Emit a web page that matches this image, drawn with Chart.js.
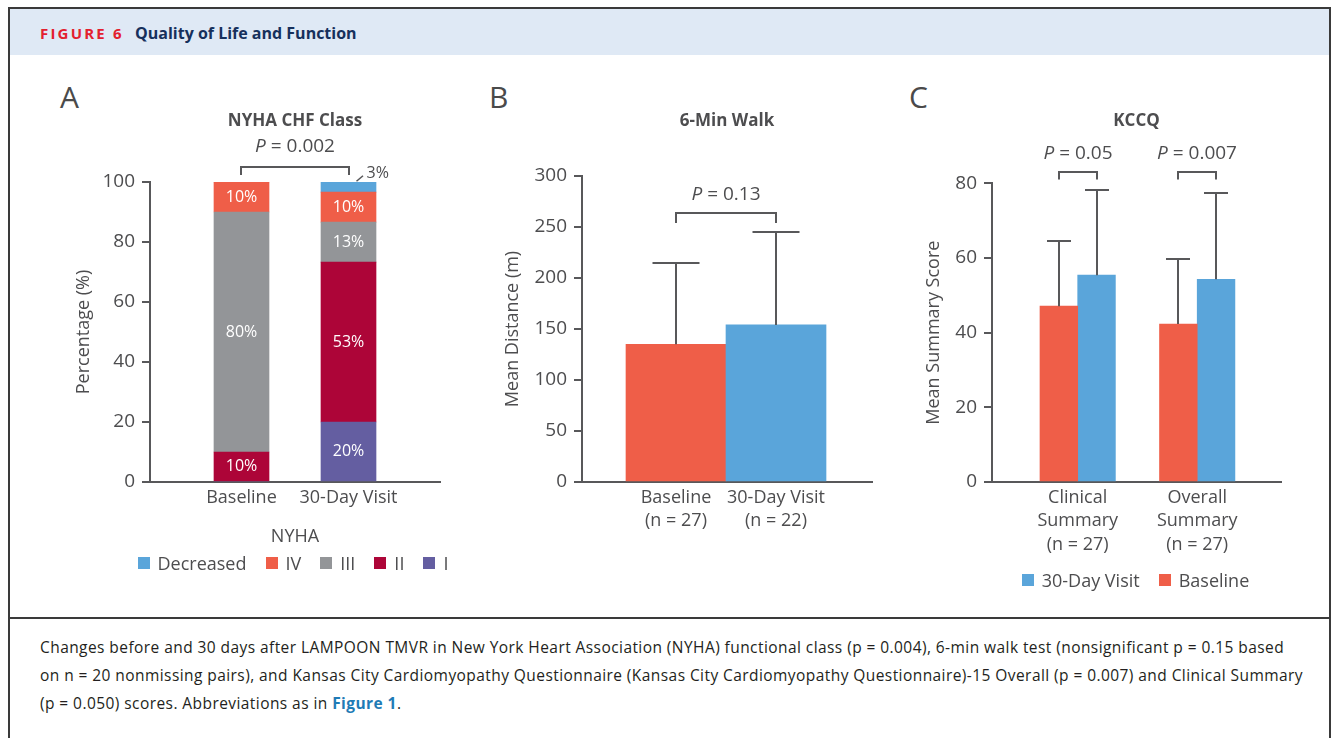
<!DOCTYPE html>
<html>
<head>
<meta charset="utf-8">
<script src="https://cdn.jsdelivr.net/npm/chart.js@4.4.1/dist/chart.umd.min.js"></script>
<style>
html,body{margin:0;padding:0;background:#fff;}
body{width:1336px;height:738px;position:relative;overflow:hidden;font-family:'Open Sans','Noto Sans',sans-serif;color:#4d4d4f;}
.frame{position:absolute;left:8px;top:7px;width:1319px;height:800px;border:2px solid #3a3a3a;box-sizing:content-box;}
.band{position:absolute;left:10px;top:9px;width:1319px;height:46px;background:#dfe9f5;}
.fig{position:absolute;left:40px;top:10px;height:46px;line-height:46px;font-size:15px;font-weight:bold;letter-spacing:2.2px;color:#e3202f;}
.ftitle{position:absolute;left:135px;top:10px;height:46px;line-height:46px;font-size:16px;font-weight:bold;color:#16305c;}
.sep{position:absolute;left:10px;top:617px;width:1319px;height:2px;background:#3a3a3a;}
.letter{position:absolute;top:82px;font-size:30px;line-height:30px;color:#4a4a4a;}
.wrap{position:absolute;}
.legend{position:absolute;display:flex;align-items:center;white-space:nowrap;font-size:18px;color:#4d4d4f;}
.legend .it{display:flex;align-items:center;margin-right:19px;}
.legend .it:last-child{margin-right:0;}
.legend .sw{width:12px;height:12px;margin-right:8px;}
.ltitle{position:absolute;font-size:18px;color:#4d4d4f;white-space:nowrap;}
.caption{position:absolute;left:40px;top:633px;font-size:15.5px;letter-spacing:0.43px;line-height:28px;color:#231f20;white-space:nowrap;}
.caption b{color:#1f7bb6;}
</style>
</head>
<body>
<div class="frame"></div>
<div class="band"></div>
<div class="fig">FIGURE 6</div>
<div class="ftitle">Quality of Life and Function</div>
<div class="sep"></div>

<div class="letter" style="left:60px">A</div>
<div class="letter" style="left:489px">B</div>
<div class="letter" style="left:909px">C</div>

<div class="wrap" style="left:40px;top:80px;width:430px;height:510px"><canvas id="cA" width="430" height="510"></canvas></div>
<div class="wrap" style="left:470px;top:80px;width:420px;height:510px"><canvas id="cB" width="420" height="510"></canvas></div>
<div class="wrap" style="left:890px;top:80px;width:430px;height:510px"><canvas id="cC" width="430" height="510"></canvas></div>

<div class="ltitle" id="legATitle">NYHA</div>
<div class="legend" id="legA"></div>
<div class="legend" id="legC"></div>

<div class="caption">Changes before and 30 days after LAMPOON TMVR in New York Heart Association (NYHA) functional class (p = 0.004), 6-min walk test (nonsignificant p = 0.15 based<br>on n = 20 nonmissing pairs), and Kansas City Cardiomyopathy Questionnaire (Kansas City Cardiomyopathy Questionnaire)-15 Overall (p = 0.007) and Clinical Summary<br>(p = 0.050) scores. Abbreviations as in <b>Figure 1</b>.</div>

<script>
// ---------- DATA ----------
// Panel A: NYHA class distribution (%)
const nyhaCategories = ['Baseline', '30-Day Visit'];
const nyhaClassI = [0, 20];
const nyhaClassII = [10, 53.3];
const nyhaClassIII = [80, 13.3];
const nyhaClassIV = [10, 10];
const nyhaDecreased = [0, 3.3];
const nyhaTicks = [0, 20, 40, 60, 80, 100];
const nyhaP = '0.002';

// Panel B: 6-min walk (m)
const walkCategories = [['Baseline', '(n = 27)'], ['30-Day Visit', '(n = 22)']];
const walkMean = [135, 154];
const walkSD = [80, 91];
const walkTicks = [0, 50, 100, 150, 200, 250, 300];
const walkP = '0.13';

// Panel C: KCCQ summary scores
const kccqCategories = [['Clinical', 'Summary', '(n = 27)'], ['Overall', 'Summary', '(n = 27)']];
const kccqBaseline = [47.1, 42.3];
const kccqBaselineSD = [17.4, 17.4];
const kccq30Day = [55.4, 54.3];
const kccq30DaySD = [22.7, 23.2];
const kccqTicks = [0, 20, 40, 60, 80];
const kccqP = ['0.05', '0.007'];

// ---------- STYLE ----------
const TEXT = '#4d4d4f';
const AXIS = '#58585a';
const RED = '#ef5e48';
const BLUE = '#5aa5da';
const GRAY = '#939598';
const CRIMSON = '#ad0538';
const PURPLE = '#645ea1';
const FONT = "'Open Sans', 'Noto Sans', sans-serif";
Chart.defaults.font.family = FONT;
Chart.defaults.color = TEXT;

const pts = arr => arr.map((v, i) => ({x: i, y: v}));

function yAxis(title, ticks, width, titlePad, stacked) {
  return {
    stacked: !!stacked,
    min: ticks[0], max: ticks[ticks.length - 1],
    ticks: {stepSize: ticks[1] - ticks[0], padding: 7, color: TEXT, font: {size: 19}},
    grid: {display: true, drawOnChartArea: false, drawTicks: true, tickLength: 8, color: AXIS, lineWidth: 2},
    border: {display: true, color: AXIS, width: 2},
    title: {display: true, text: title, color: TEXT, font: {size: 18}, padding: {top: titlePad, bottom: 0}},
    afterFit: s => { s.width = width; }
  };
}
function xAxis(labels, min, max, stacked) {
  return {
    type: 'linear', stacked: !!stacked, min, max, offset: false,
    ticks: {stepSize: 1, includeBounds: false, autoSkip: false, maxRotation: 0, minRotation: 0, padding: 4,
      color: TEXT, font: {size: 18, lineHeight: 1.3},
      callback: v => (Number.isInteger(v) && labels[v] !== undefined) ? labels[v] : ''},
    grid: {display: false, drawTicks: false, offset: false},
    border: {display: true, color: AXIS, width: 2},
    afterFit: s => { s.height = 90; }
  };
}
function titleOpts(text, top, bottom) {
  return {display: true, text, fullSize: false, color: TEXT, font: {size: 17, weight: 'bold', lineHeight: 1.2}, padding: {top, bottom}};
}

function drawP(ctx, cx, cy, value) {
  ctx.save();
  ctx.fillStyle = TEXT;
  ctx.textBaseline = 'middle';
  ctx.textAlign = 'left';
  const fI = 'italic 19px ' + FONT, fR = '19px ' + FONT;
  ctx.font = fI; const w1 = ctx.measureText('P').width;
  const rest = ' = ' + value;
  ctx.font = fR; const w2 = ctx.measureText(rest).width;
  const x = cx - (w1 + w2) / 2;
  ctx.font = fI; ctx.fillText('P', x, cy);
  ctx.font = fR; ctx.fillText(rest, x + w1, cy);
  ctx.restore();
}

const annot = {
  id: 'annot',
  afterDatasetsDraw(chart, args, opts) {
    const ctx = chart.ctx, y = chart.scales.y;
    ctx.save();
    ctx.strokeStyle = AXIS;
    ctx.lineWidth = 2;
    // error bars (upper SD)
    chart.data.datasets.forEach((ds, di) => {
      if (!ds.sd) return;
      chart.getDatasetMeta(di).data.forEach((bar, i) => {
        const top = Math.round(y.getPixelForValue(ds.data[i].y + ds.sd[i]));
        const bx = Math.round(bar.x);
        ctx.beginPath();
        ctx.moveTo(bx, bar.y); ctx.lineTo(bx, top);
        ctx.moveTo(bx - opts.cap / 2, top); ctx.lineTo(bx + opts.cap / 2, top);
        ctx.stroke();
      });
    });
    // value labels inside stacked segments
    if (opts.valueLabels) {
      ctx.fillStyle = '#ffffff';
      ctx.font = '16px ' + FONT;
      ctx.textAlign = 'center';
      ctx.textBaseline = 'middle';
      chart.data.datasets.forEach((ds, di) => {
        chart.getDatasetMeta(di).data.forEach((bar, i) => {
          const v = ds.data[i].y;
          if (v >= 5) ctx.fillText(Math.round(v) + '%', bar.x, (bar.y + bar.base) / 2);
        });
      });
      // small-value callout
      const c = opts.callout;
      if (c) {
        const bar = chart.getDatasetMeta(c.dataset).data[c.index];
        const v = chart.data.datasets[c.dataset].data[c.index].y;
        ctx.beginPath();
        ctx.lineWidth = 1.5;
        ctx.moveTo(bar.x + 8, bar.y - 1); ctx.lineTo(bar.x + 14.5, bar.y - 6.5);
        ctx.stroke();
        ctx.fillStyle = TEXT;
        ctx.textAlign = 'left';
        ctx.font = '16px ' + FONT;
        ctx.fillText(Math.round(v) + '%', bar.x + 18, bar.y - 9);
        ctx.lineWidth = 2;
      }
    }
    // significance brackets
    (opts.brackets || []).forEach(b => {
      const e1 = chart.getDatasetMeta(b.from[0]).data[b.from[1]];
      const e2 = chart.getDatasetMeta(b.to[0]).data[b.to[1]];
      const py = Math.round(y.getPixelForValue(b.value));
      const x1 = Math.round(e1.x), x2 = Math.round(e2.x);
      ctx.beginPath();
      ctx.moveTo(x1, py + opts.leg); ctx.lineTo(x1, py); ctx.lineTo(x2, py); ctx.lineTo(x2, py + opts.leg);
      ctx.stroke();
      drawP(ctx, (x1 + x2) / 2, py - opts.gap, b.p);
    });
    ctx.restore();
  }
};

function buildLegend(chart, el, reverse) {
  let items = chart.options.plugins.legend.labels.generateLabels(chart);
  if (reverse) items = items.slice().reverse();
  items.forEach(it => {
    const d = document.createElement('div'); d.className = 'it';
    const sw = document.createElement('span'); sw.className = 'sw'; sw.style.background = it.fillStyle;
    const t = document.createElement('span'); t.textContent = it.text;
    d.appendChild(sw); d.appendChild(t); el.appendChild(d);
  });
}
function placeCentered(el, pageCx, pageCy) {
  const r = el.getBoundingClientRect();
  el.style.left = (pageCx - r.width / 2) + 'px';
  el.style.top = (pageCy - r.height / 2) + 'px';
}

// ---------- PANEL A ----------
const chartA = new Chart(document.getElementById('cA'), {
  type: 'bar',
  data: {
    datasets: [
      {label: 'I', data: pts(nyhaClassI), backgroundColor: PURPLE},
      {label: 'II', data: pts(nyhaClassII), backgroundColor: CRIMSON},
      {label: 'III', data: pts(nyhaClassIII), backgroundColor: GRAY},
      {label: 'IV', data: pts(nyhaClassIV), backgroundColor: RED},
      {label: 'Decreased', data: pts(nyhaDecreased), backgroundColor: BLUE}
    ]
  },
  options: {
    responsive: false, animation: false, events: [],
    layout: {padding: {top: 0, left: 20, right: 30, bottom: 18}},
    datasets: {bar: {barThickness: 55, borderWidth: 0}},
    scales: {
      x: xAxis(nyhaCategories, -0.855, 1.855, true),
      y: yAxis('Percentage (%)', nyhaTicks, 90, 13.2, true)
    },
    plugins: {
      legend: {display: false},
      tooltip: {enabled: false},
      title: titleOpts('NYHA CHF Class', 30.5, 51.1),
      annot: {cap: 0, leg: 8, gap: 20, valueLabels: true,
        callout: {dataset: 4, index: 1},
        brackets: [{from: [0, 0], to: [0, 1], value: 105, p: nyhaP}]}
    }
  },
  plugins: [annot]
});

// ---------- PANEL B ----------
const chartB = new Chart(document.getElementById('cB'), {
  type: 'bar',
  data: {
    datasets: [
      {label: '6-Min Walk', data: pts(walkMean), sd: walkSD, backgroundColor: [RED, BLUE]}
    ]
  },
  options: {
    responsive: false, animation: false, events: [],
    layout: {padding: {top: 0, left: 20, right: 18, bottom: 18}},
    datasets: {bar: {barThickness: 100, borderWidth: 0}},
    scales: {
      x: xAxis(walkCategories, -0.94, 1.96),
      y: yAxis('Mean Distance (m)', walkTicks, 92, 12.2)
    },
    plugins: {
      legend: {display: false},
      tooltip: {enabled: false},
      title: titleOpts('6-Min Walk', 30.5, 45.1),
      annot: {cap: 47, leg: 10, gap: 18.5,
        brackets: [{from: [0, 0], to: [0, 1], value: 264, p: walkP}]}
    }
  },
  plugins: [annot]
});

// ---------- PANEL C ----------
const chartC = new Chart(document.getElementById('cC'), {
  type: 'bar',
  data: {
    datasets: [
      {label: 'Baseline', data: pts(kccqBaseline), sd: kccqBaselineSD, backgroundColor: RED},
      {label: '30-Day Visit', data: pts(kccq30Day), sd: kccq30DaySD, backgroundColor: BLUE}
    ]
  },
  options: {
    responsive: false, animation: false, events: [],
    layout: {padding: {top: 0, left: 20, right: 39, bottom: 18}},
    datasets: {bar: {barThickness: 37.7, borderWidth: 0}},
    scales: {
      x: xAxis(kccqCategories, -0.717, 1.701),
      y: yAxis('Mean Summary Score', kccqTicks, 82, 13.2)
    },
    plugins: {
      legend: {display: false},
      tooltip: {enabled: false},
      title: titleOpts('KCCQ', 30.5, 52.4),
      annot: {cap: 24, leg: 7.5, gap: 18,
        brackets: [
          {from: [0, 0], to: [1, 0], value: 83.1, p: kccqP[0]},
          {from: [0, 1], to: [1, 1], value: 83.1, p: kccqP[1]}
        ]}
    }
  },
  plugins: [annot]
});

// ---------- HTML legends (built from Chart.js legend items) ----------
const legA = document.getElementById('legA');
buildLegend(chartA, legA, true);
const caA = chartA.chartArea;
const cxA = 40 + (caA.left + caA.right) / 2;
placeCentered(legA, cxA - 2, 563);
placeCentered(document.getElementById('legATitle'), cxA, 535);

const legC = document.getElementById('legC');
buildLegend(chartC, legC, true);
const caC = chartC.chartArea;
placeCentered(legC, 890 + (caC.left + caC.right) / 2 - 1, 580);
</script>
</body>
</html>
